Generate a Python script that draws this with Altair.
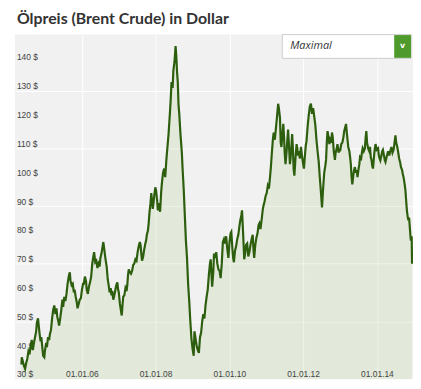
import altair as alt
import pandas as pd

# decimal year readings and Brent prices (USD)
years = [
2004.35,2004.36,2004.39,2004.42,2004.45,2004.48,2004.51,2004.54,2004.57,2004.60,2004.63,2004.66,2004.69,2004.72,2004.75,2004.77,2004.80,2004.82,2004.84,2004.87,2004.89,2004.92,2004.94,2004.97,2004.99,
2005.02,2005.04,2005.07,2005.10,2005.12,2005.15,2005.18,2005.21,2005.24,2005.27,2005.30,2005.32,2005.35,2005.37,2005.40,2005.43,2005.46,2005.48,2005.51,2005.54,2005.57,2005.60,2005.63,2005.66,2005.68,2005.71,2005.74,2005.77,2005.79,2005.82,2005.85,2005.87,2005.90,2005.93,2005.96,2005.99,
2006.02,2006.04,2006.07,2006.10,2006.12,2006.15,2006.18,2006.21,2006.24,2006.27,2006.30,2006.32,2006.35,2006.38,2006.41,2006.44,2006.47,2006.49,2006.52,2006.55,2006.57,2006.60,2006.63,2006.66,2006.69,2006.72,2006.74,2006.77,2006.79,2006.81,2006.84,2006.86,2006.89,2006.92,2006.95,2006.97,2006.99,
2007.02,2007.05,2007.07,2007.09,2007.11,2007.14,2007.17,2007.20,2007.22,2007.24,2007.26,2007.29,2007.32,2007.35,2007.38,2007.41,2007.44,2007.47,2007.50,2007.53,2007.56,2007.58,2007.60,2007.62,2007.65,2007.68,2007.71,2007.73,2007.75,2007.78,2007.80,2007.82,2007.85,2007.87,2007.89,2007.91,2007.93,2007.95,2007.98,
2008.00,2008.03,2008.05,2008.08,2008.11,2008.14,2008.16,2008.19,2008.22,2008.25,2008.28,2008.31,2008.34,2008.36,2008.38,2008.40,2008.42,2008.45,2008.47,2008.50,2008.53,2008.55,2008.57,2008.59,2008.61,2008.63,2008.66,2008.68,2008.70,2008.72,2008.75,2008.78,2008.81,2008.84,2008.87,2008.90,2008.93,2008.96,2008.99,
2009.02,2009.04,2009.07,2009.10,2009.13,2009.16,2009.19,2009.22,2009.25,2009.28,2009.31,2009.34,2009.37,2009.40,2009.43,2009.46,2009.48,2009.50,2009.52,2009.55,2009.57,2009.60,2009.63,2009.66,2009.69,2009.72,2009.75,2009.78,2009.81,2009.84,2009.87,2009.90,2009.93,2009.96,2009.99,
2010.02,2010.04,2010.07,2010.09,2010.11,2010.14,2010.17,2010.20,2010.23,2010.26,2010.29,2010.31,2010.33,2010.36,2010.39,2010.42,2010.44,2010.47,2010.50,2010.53,2010.56,2010.59,2010.62,2010.64,2010.66,2010.69,2010.72,2010.75,2010.78,2010.80,2010.83,2010.86,2010.89,2010.91,2010.94,2010.97,
2011.00,2011.03,2011.06,2011.09,2011.11,2011.14,2011.17,2011.19,2011.22,2011.25,2011.28,2011.31,2011.33,2011.36,2011.38,2011.40,2011.42,2011.45,2011.47,2011.49,2011.51,2011.54,2011.56,2011.58,2011.60,2011.63,2011.65,2011.67,2011.69,2011.71,2011.73,2011.75,2011.78,2011.81,2011.83,2011.85,2011.87,2011.90,2011.93,2011.96,2011.99,
2012.01,2012.04,2012.06,2012.08,2012.11,2012.14,2012.17,2012.20,2012.23,2012.26,2012.29,2012.32,2012.35,2012.38,2012.41,2012.44,2012.47,2012.50,2012.53,2012.56,2012.59,2012.61,2012.63,2012.65,2012.68,2012.70,2012.72,2012.75,2012.77,2012.79,2012.82,2012.85,2012.87,2012.90,2012.92,2012.95,2012.97,2012.99,
2013.02,2013.05,2013.08,2013.10,2013.12,2013.15,2013.17,2013.19,2013.21,2013.24,2013.26,2013.28,2013.30,2013.32,2013.35,2013.37,2013.39,2013.42,2013.44,2013.46,2013.49,2013.51,2013.53,2013.56,2013.58,2013.60,2013.63,2013.66,2013.68,2013.70,2013.72,2013.75,2013.78,2013.80,2013.82,2013.84,2013.86,2013.88,2013.91,2013.93,2013.95,2013.98,
2014.02,2014.04,2014.06,2014.08,2014.11,2014.13,2014.15,2014.18,2014.20,2014.22,2014.25,2014.27,2014.29,2014.32,2014.34,2014.36,2014.38,2014.41,2014.44,2014.46,2014.49,2014.51,2014.54,2014.56,2014.59,2014.62,2014.64,2014.67,2014.69,2014.71,2014.74,2014.76,2014.78,2014.80,2014.82,2014.84,2014.86,2014.88,2014.90,2014.91,2014.93,2014.94,
]
prices = [
35.0,37.5,36.0,34.5,33.5,35.5,37.0,39.5,38.5,41.5,43.5,40.0,42.5,44.5,46.5,49.5,51.0,48.5,46.0,43.0,44.5,40.5,38.0,37.5,40.0,
42.5,41.0,44.5,43.5,45.5,47.0,51.0,54.0,55.5,52.5,54.5,51.5,50.0,48.5,51.0,54.0,57.5,55.0,58.5,57.0,59.5,63.0,65.5,67.0,64.0,62.5,63.0,60.0,61.0,58.5,56.5,54.5,56.0,57.5,58.0,61.0,
63.0,63.0,65.5,64.0,61.0,59.5,62.0,63.5,65.5,70.0,72.5,74.0,70.5,71.0,68.5,70.0,69.0,72.0,73.5,76.0,77.5,74.5,71.5,69.0,64.5,62.0,60.0,61.5,59.0,60.5,57.5,58.5,60.5,62.5,63.5,61.0,60.0,
56.0,53.5,52.0,55.5,58.5,59.0,61.5,60.5,62.5,66.0,68.0,67.0,66.5,67.5,69.5,70.0,71.5,71.0,74.0,76.0,77.5,76.5,73.5,71.0,72.5,75.0,77.0,78.0,80.0,81.5,84.0,87.5,91.0,94.5,92.0,89.0,91.0,93.5,96.5,
95.5,92.0,88.5,91.0,88.0,95.0,98.0,101.5,103.0,100.0,106.0,110.5,115.0,119.0,123.0,127.5,133.0,131.0,137.0,140.0,145.5,142.0,136.5,133.0,125.0,122.0,115.5,112.0,108.5,103.0,96.0,87.0,78.0,72.0,63.0,57.0,50.0,44.0,40.5,
38.0,46.5,44.0,41.5,40.0,39.0,44.5,46.0,50.0,52.5,51.0,55.5,58.5,61.0,66.0,70.0,71.5,66.5,62.0,67.0,73.5,72.0,74.0,70.0,68.0,67.5,65.0,70.0,77.5,78.5,77.0,79.5,75.0,72.0,77.5,
80.5,81.0,75.0,72.0,70.5,74.5,76.0,78.5,80.0,83.0,85.5,86.5,88.5,80.5,71.5,74.0,76.5,77.0,72.5,74.0,76.5,78.5,80.0,75.0,72.0,76.5,79.0,80.5,83.5,84.0,82.0,85.0,88.5,90.0,91.5,93.5,
94.5,97.0,96.0,100.0,103.0,108.5,113.5,115.5,113.0,117.0,121.0,125.5,124.0,120.5,112.0,110.5,114.0,118.5,114.0,108.0,104.5,109.0,113.0,116.5,112.0,104.5,107.0,110.5,115.0,110.0,103.0,100.5,106.5,111.5,110.0,107.5,109.0,106.5,110.5,107.0,104.5,
103.0,108.0,111.0,112.5,117.5,121.5,124.5,125.5,122.0,124.0,121.0,118.0,113.0,109.0,105.5,100.0,95.0,89.5,96.0,101.5,104.0,106.0,112.0,116.0,113.5,111.5,113.0,112.0,115.5,114.0,109.0,106.0,108.5,110.0,111.5,108.5,110.0,109.0,
111.5,112.0,114.0,116.0,117.0,118.5,115.5,113.0,110.5,109.0,107.0,104.5,100.0,97.5,101.0,102.5,103.5,101.5,102.5,100.0,103.0,104.5,107.0,106.5,108.5,110.0,109.0,110.0,113.5,116.0,112.0,110.0,109.0,110.5,107.0,106.0,104.0,103.0,107.5,110.0,111.5,109.5,
110.0,107.5,106.5,105.8,107.5,109.0,109.5,107.5,106.0,105.3,107.0,108.0,109.0,107.5,108.5,109.5,110.5,108.5,109.5,111.5,114.5,112.0,110.5,109.0,106.5,105.0,103.5,102.5,101.0,100.0,97.5,95.5,92.0,88.5,86.5,85.0,86.0,82.5,79.0,78.0,79.5,70.0,
]

y_ticks = [30, 40, 50, 60, 70, 80, 90, 100, 110, 120, 130, 140]
x_tick_years = [2006, 2008, 2010, 2012, 2014]
title_text = "Ölpreis (Brent Crude) in Dollar"
dropdown_text = "Maximal"


def to_ts(y):
    base = int(y)
    return pd.Timestamp(f"{base}-01-01") + pd.Timedelta(days=round((y - base) * 365.25, 2))


df = pd.DataFrame({"date": [to_ts(y) for y in years], "price": prices})
ylab = pd.DataFrame({"price": y_ticks, "label": [f"{v} $" for v in y_ticks]})
xlab = pd.DataFrame({"date": [pd.Timestamp(f"{yy}-01-01") for yy in x_tick_years]})

W, H = 402, 348

x_scale = alt.Scale(domain=[alt.DateTime(year=2004, month=3, date=4, hours=17),
                            alt.DateTime(year=2014, month=12, date=19, hours=19)])
y_scale = alt.Scale(domain=[29.9, 149.5], nice=False, zero=False)

x_enc = alt.X(
    "date:T", scale=x_scale,
    axis=alt.Axis(
        title=None, values=[alt.DateTime(year=yy, month=1, date=1) for yy in x_tick_years],
        grid=True, gridColor="#ffffff", gridWidth=1,
        domain=False, ticks=False, labels=False,
    ),
)
y_enc = alt.Y(
    "price:Q", scale=y_scale,
    axis=alt.Axis(
        title=None, values=y_ticks,
        grid=True, gridColor="#ffffff", gridWidth=1,
        domain=False, ticks=False, labels=False,
    ),
)

base = alt.Chart(df)
area = base.mark_area(color="#94c265", opacity=0.16, clip=True).encode(x=x_enc, y=y_enc)
line = base.mark_line(color="#2c5e0e", strokeWidth=2.2, clip=True).encode(x="date:T", y="price:Q")

ytext = alt.Chart(ylab).mark_text(align="left", baseline="alphabetic", dy=-1.5,
                                  font="Liberation Sans", fontSize=8.5, color="#444444").encode(
    x=alt.value(2), y="price:Q", text="label:N")
xtext = alt.Chart(xlab).mark_text(align="center", baseline="middle",
                                  font="Liberation Sans", fontSize=8.5, color="#444444").encode(
    x="date:T", y=alt.value(343), text=alt.Text("date:T", format="%d.%m.%y"))

deco = pd.DataFrame({"t": [title_text], "d": [dropdown_text]})
dbase = alt.Chart(deco)
title = dbase.mark_text(align="left", baseline="alphabetic", font="Lato", fontSize=16,
                        fontWeight="bold", color="#333333").encode(
    x=alt.value(2), y=alt.value(-11), text="t:N")
box = dbase.mark_rect(fill="#ffffff", stroke="#cccccc", strokeWidth=1).encode(
    x=alt.value(270), x2=alt.value(400), y=alt.value(0), y2=alt.value(24))
green = dbase.mark_rect(fill="#4f9a2c").encode(
    x=alt.value(383), x2=alt.value(400), y=alt.value(0.5), y2=alt.value(23.5))
chev = dbase.mark_text(align="center", baseline="middle", font="DejaVu Sans", fontSize=8,
                       fontWeight="bold", color="#ffffff").encode(
    x=alt.value(391.5), y=alt.value(12), text=alt.value("v"))
dtext = dbase.mark_text(align="left", baseline="middle", font="Open Sans", fontSize=11,
                        fontStyle="italic", color="#333333").encode(
    x=alt.value(278), y=alt.value(12), text="d:N")

chart = alt.layer(area, ytext, xtext, line, title, box, green, chev, dtext).properties(
    width=W, height=H,
    autosize=alt.AutoSizeParams(type="none"),
    padding={"left": 7, "top": 25, "right": 0, "bottom": 0},
    background="#ffffff",
).configure_view(fill="#f1f1f1", strokeWidth=0)

chart.save("out.html", embed_options={"renderer": "svg", "actions": False})
